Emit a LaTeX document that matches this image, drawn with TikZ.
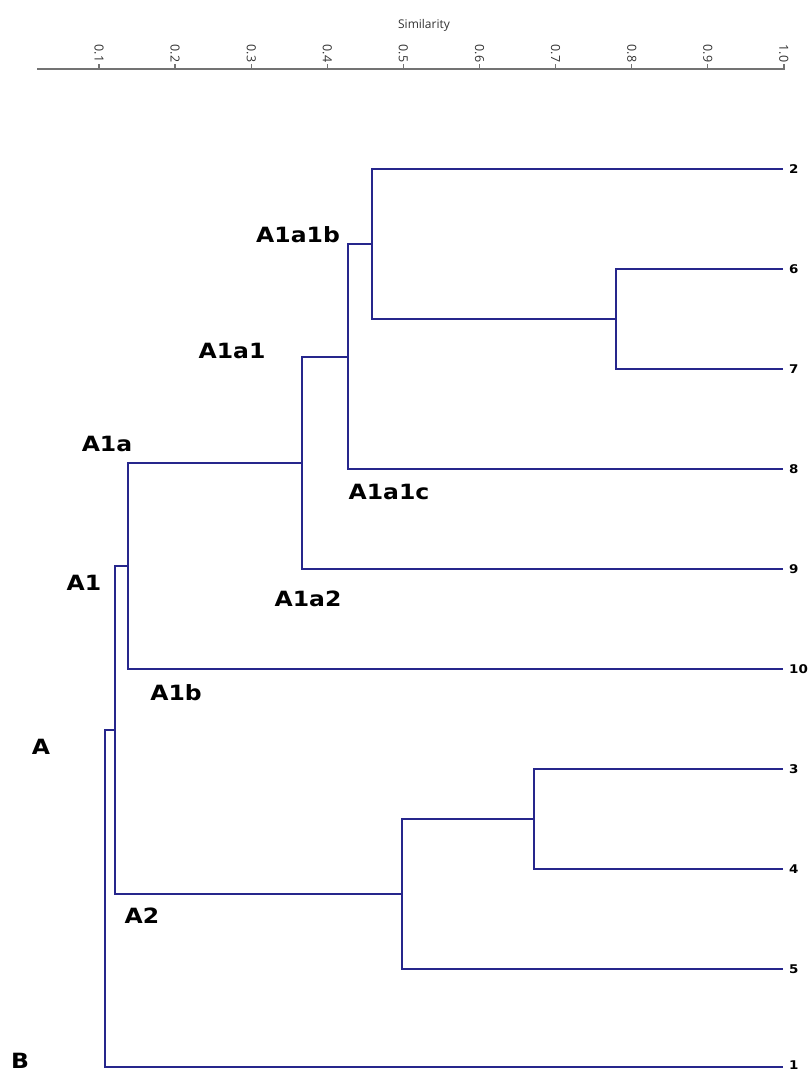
\documentclass[tikz,border=0pt]{standalone}
\usepackage{fontspec}
\newfontfamily\labfont{DejaVu Sans}[FakeStretch=1.12]
\newfontfamily\axfont{Open Sans}
\definecolor{dendro}{RGB}{38,38,140}
\definecolor{axisgrey}{RGB}{115,115,115}
\definecolor{axtext}{RGB}{50,50,50}
\begin{document}
\begin{tikzpicture}[x=1pt,y=-1pt,
  branch/.style={draw=dendro,line width=2.4pt,line cap=rect},
  grouplab/.style={font=\labfont\bfseries\fontsize{21}{21}\selectfont,inner sep=0pt},
  leaflab/.style={font=\labfont\bfseries\fontsize{12}{12}\selectfont,inner sep=0pt,anchor=west,xshift=7pt},
  ticklab/.style={font=\axfont\fontsize{12.5}{12.5}\selectfont,text=axtext,rotate=-90,anchor=east,inner sep=0pt}]
\useasboundingbox (0,0) rectangle (807,1073);
% axis
\coordinate (axL) at (37,69);
\coordinate (axR) at (785,69);
\draw[axisgrey,line width=1.6pt] (axL) -- (axR);
\foreach \k/\t in {0/0.1,1/0.2,2/0.3,3/0.4,4/0.5,5/0.6,6/0.7,7/0.8,8/0.9,9/1.0}{
  \coordinate (tk\k) at ({99+\k*76.1},69);
  \draw[axisgrey,line width=1.3pt] (tk\k) -- ++(0,-5);
  \node[ticklab] (tl\k) at ({99+\k*76.1},62.5) {\t};
}
\node[font=\axfont\fontsize{12}{12}\selectfont,text=axtext] (simlab) at (424,25) {Similarity};
% leaf ends
\coordinate (e2) at (782,169);
\coordinate (e6) at (782,269);
\coordinate (e7) at (782,369);
\coordinate (e8) at (782,469);
\coordinate (e9) at (782,569);
\coordinate (e10) at (782,669);
\coordinate (e3) at (782,769);
\coordinate (e4) at (782,869);
\coordinate (e5) at (782,969);
\coordinate (e1) at (782,1067);
% joints
\coordinate (j67) at (616,319);
\coordinate (j2) at (372,244);
\coordinate (jb) at (348,357);
\coordinate (ja1) at (302,463);
\coordinate (ja) at (128,566);
\coordinate (j34) at (534,819);
\coordinate (jA2) at (402,894);
\coordinate (jA1) at (115,730);
\coordinate (jA) at (105,899);
% branches
\draw[branch] (e6) -| (j67) |- (e7);
\draw[branch] (e2) -| (j2) |- (j67);
\draw[branch] (j2) -| (jb) |- (e8);
\draw[branch] (jb) -| (ja1) |- (e9);
\draw[branch] (ja1) -| (ja) |- (e10);
\draw[branch] (e3) -| (j34) |- (e4);
\draw[branch] (j34) -| (jA2) |- (e5);
\draw[branch] (ja) -| (jA1) |- (jA2);
\draw[branch] (jA1) -| (jA) |- (e1);
% leaf labels
\foreach \n in {2,6,7,8,9,10,3,4,5}{
  \node[leaflab] (l\n) at (e\n) {\n};
}
\node[leaflab,yshift=1.5pt] (l1) at (e1) {1};
% group labels
\node[grouplab] (gA1a1b) at (298,235) {A1a1b};
\node[grouplab] (gA1a1) at (232,351) {A1a1};
\node[grouplab] (gA1a) at (107,444) {A1a};
\node[grouplab] (gA1a1c) at (389,492) {A1a1c};
\node[grouplab] (gA1) at (84,583) {A1};
\node[grouplab] (gA1a2) at (308,599) {A1a2};
\node[grouplab] (gA1b) at (176,693) {A1b};
\node[grouplab] (gA) at (41,747) {A};
\node[grouplab] (gA2) at (142,916) {A2};
\node[grouplab] (gB) at (20,1061) {B};
\end{tikzpicture}
\end{document}
